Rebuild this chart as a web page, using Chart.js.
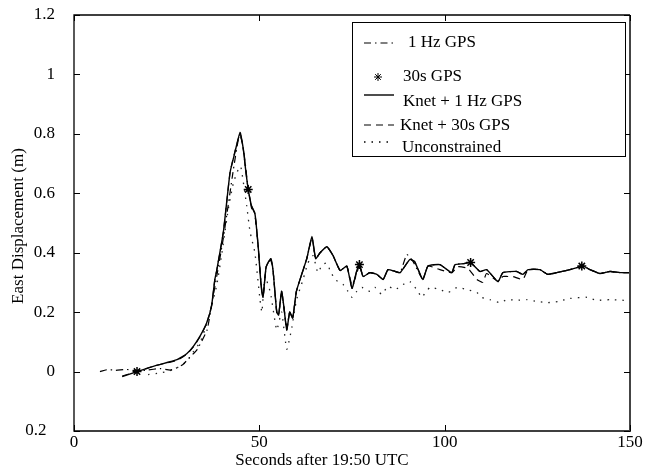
<!DOCTYPE html>
<html>
<head>
<meta charset="utf-8">
<script src="https://cdn.jsdelivr.net/npm/chart.js@4/dist/chart.umd.min.js"></script>
<style>
  body { margin: 0; background: #fff; }
  canvas { display: block; }
</style>
</head>
<body>
<canvas id="graficoDeslocamento" width="654" height="474"></canvas>
<script>
// East displacement, seconds after 19:50 UTC
var yTickLabels = ['0.2', '0', '0.2', '0.4', '0.6', '0.8', '1', '1.2'];

// Knet + 1 Hz GPS
var knet1HzT = [13, 17, 22, 27.8, 30.4, 32.2, 34, 35.8, 37.1, 38, 38.5, 40.3, 42.1, 43.4, 44.8, 45.7, 46.3, 47, 47.9, 48.8, 49.7, 50.2, 50.6, 51, 51.8, 52.5, 53.1, 53.7, 54.7, 55.2, 56, 56.6, 57.4, 58.2, 59, 60, 61.5, 62.8, 64.2, 65.2, 66.4, 68.2, 69.9, 71.8, 73.6, 75, 76.3, 77, 78, 79.8, 81.7, 83.4, 84.7, 86.6, 88, 90.6, 91.9, 94.1, 95.5, 98.7, 101.9, 102.8, 105, 107, 109.5, 111.3, 114.4, 115.7, 119.4, 121.1, 122.5, 125.7, 127.8, 130.2, 133.8, 137.3, 139.2, 141.9, 144.6, 147.3, 150];
var knet1HzV = [-0.017, 0, 0.02, 0.04, 0.06, 0.085, 0.119, 0.164, 0.22, 0.31, 0.34, 0.47, 0.67, 0.737, 0.805, 0.747, 0.68, 0.613, 0.557, 0.533, 0.42, 0.333, 0.276, 0.25, 0.35, 0.37, 0.38, 0.34, 0.2, 0.19, 0.27, 0.22, 0.14, 0.2, 0.18, 0.27, 0.33, 0.38, 0.455, 0.38, 0.40, 0.42, 0.39, 0.34, 0.355, 0.28, 0.34, 0.36, 0.32, 0.333, 0.327, 0.31, 0.343, 0.337, 0.333, 0.377, 0.37, 0.31, 0.355, 0.36, 0.333, 0.36, 0.363, 0.367, 0.337, 0.343, 0.303, 0.333, 0.337, 0.327, 0.343, 0.343, 0.327, 0.333, 0.343, 0.355, 0.343, 0.33, 0.337, 0.333, 0.333];

// Knet + 30s GPS
var knet30sT = [13, 17, 22, 27.8, 30.4, 32.2, 34, 35.8, 37.1, 38, 38.5, 40.3, 42.1, 43.4, 44.8, 45.7, 46.3, 47, 47.9, 48.8, 49.7, 50.2, 50.6, 51, 51.8, 52.5, 53.1, 53.7, 54.7, 55.2, 56, 56.6, 57.4, 58.2, 59, 60, 61.5, 62.8, 64.2, 65.2, 66.4, 68.2, 69.9, 71.8, 73.6, 75, 76.3, 77, 78, 79.8, 81.7, 83.4, 84.7, 86.6, 88, 90.6, 91.9, 94.1, 95.5, 98.7, 100.5, 102, 103.6, 106.3, 108.7, 110.3, 111.3, 114.4, 115.7, 117, 118.4, 121.1, 122.5, 125.7, 127.8, 130.2, 133.8, 137.3, 139.2, 141.9, 144.6, 147.3, 150];
var knet30sV = [-0.015, 0, 0.02, 0.038, 0.058, 0.083, 0.117, 0.162, 0.22, 0.31, 0.34, 0.47, 0.67, 0.74, 0.8, 0.745, 0.68, 0.613, 0.557, 0.53, 0.42, 0.333, 0.276, 0.25, 0.35, 0.37, 0.38, 0.34, 0.2, 0.19, 0.27, 0.22, 0.14, 0.2, 0.18, 0.27, 0.33, 0.38, 0.45, 0.38, 0.40, 0.42, 0.39, 0.34, 0.355, 0.29, 0.33, 0.36, 0.32, 0.333, 0.327, 0.31, 0.343, 0.337, 0.333, 0.377, 0.37, 0.31, 0.355, 0.343, 0.337, 0.333, 0.353, 0.347, 0.31, 0.3, 0.33, 0.303, 0.32, 0.32, 0.32, 0.31, 0.343, 0.343, 0.327, 0.333, 0.343, 0.355, 0.343, 0.33, 0.337, 0.333, 0.333];

// 1 Hz GPS
var gps1HzT = [7, 9.2, 11, 14.3, 17, 19.7, 23.2, 26, 27.8, 29.4, 31, 33.2, 35.9, 37.2, 38.5, 40.3, 43, 44.3, 44.8, 45.7, 46.3, 47, 47.9, 48.8, 49.7, 50.2, 50.6, 51, 51.8, 52.5, 53.1, 53.7, 54.7, 55.2, 56, 56.6, 57.4, 58.2, 59, 60, 61.5, 62.8, 64.2, 65.2, 66.4, 68.2, 69.9, 71.8, 73.6, 75, 76.3, 77, 78, 79.8, 81.7, 83.4, 84.7, 86.6, 88, 89.8, 91.5, 94.1, 95.5, 98.7, 101.9, 102.8, 105, 107, 109.5, 111.3, 114.4, 115.7, 119.4, 121.1, 122.5, 125.7, 127.8, 130.2, 133.8, 137.3, 139.2, 141.9, 144.6, 147.3, 150];
var gps1HzV = [0, 0.007, 0.004, 0.007, 0.002, 0.005, 0.01, 0.005, 0.013, 0.024, 0.045, 0.074, 0.14, 0.23, 0.32, 0.45, 0.68, 0.78, 0.8, 0.75, 0.69, 0.613, 0.55, 0.53, 0.42, 0.34, 0.28, 0.25, 0.35, 0.37, 0.375, 0.34, 0.2, 0.19, 0.27, 0.22, 0.15, 0.2, 0.18, 0.27, 0.33, 0.38, 0.45, 0.38, 0.40, 0.42, 0.39, 0.34, 0.355, 0.28, 0.34, 0.36, 0.32, 0.333, 0.327, 0.31, 0.343, 0.337, 0.333, 0.394, 0.37, 0.31, 0.355, 0.36, 0.333, 0.36, 0.363, 0.367, 0.337, 0.343, 0.303, 0.333, 0.337, 0.327, 0.343, 0.343, 0.327, 0.333, 0.343, 0.355, 0.343, 0.33, 0.337, 0.333, 0.333];

// 30s GPS
var gps30sT = [17, 47, 77, 107, 137];
var gps30sV = [0, 0.613, 0.36, 0.367, 0.355];

// Unconstrained
var semRestricaoT = [20, 23, 26, 27.8, 30.4, 32.2, 34, 35.3, 36.7, 38.5, 39.8, 41.6, 43, 44.3, 45, 46.6, 47.5, 48.8, 50.2, 50.7, 51.5, 53, 54.7, 56, 57.4, 58.8, 60, 61.8, 63.1, 64.5, 65.8, 67, 68.2, 69, 70.4, 72.6, 73.9, 75, 76.3, 77.7, 79.8, 81.2, 83, 84.7, 86.6, 88.8, 90.6, 92.8, 93.8, 96, 98.7, 100.9, 103.3, 106, 108.7, 110, 112.2, 114.9, 116.8, 119.4, 122.2, 124.9, 127.9, 130.6, 133.8, 138.4, 141, 144.6, 148, 150];
var semRestricaoV = [-0.01, -0.005, 0.003, 0.013, 0.034, 0.067, 0.098, 0.141, 0.2, 0.29, 0.39, 0.545, 0.635, 0.68, 0.69, 0.557, 0.47, 0.4, 0.24, 0.2, 0.32, 0.265, 0.14, 0.2, 0.075, 0.15, 0.24, 0.31, 0.365, 0.39, 0.333, 0.36, 0.365, 0.343, 0.31, 0.293, 0.27, 0.25, 0.27, 0.283, 0.27, 0.283, 0.26, 0.287, 0.276, 0.293, 0.303, 0.27, 0.25, 0.283, 0.276, 0.266, 0.283, 0.276, 0.266, 0.25, 0.242, 0.232, 0.242, 0.24, 0.242, 0.236, 0.232, 0.236, 0.246, 0.25, 0.24, 0.242, 0.24, 0.238];

function pontos(t, v) {
    return t.map(function (x, i) { return { x: x, y: v[i] }; });
}

var fonte = "'Liberation Serif', 'Times New Roman', serif";

// frame, inward ticks, legend box and axis titles
var molduraPlugin = {
    id: 'moldura',
    afterDraw: function (chart) {
        var ctx = chart.ctx;
        var a = chart.chartArea;
        var sx = chart.scales.x, sy = chart.scales.y;
        ctx.save();
        ctx.strokeStyle = '#000';
        ctx.lineWidth = 1.3;
        ctx.beginPath();
        ctx.moveTo(a.right, a.top);
        ctx.lineTo(a.left, a.top);
        ctx.lineTo(a.left, a.bottom);
        ctx.lineTo(a.right, a.bottom);
        ctx.stroke();
        ctx.strokeStyle = '#444';
        ctx.lineWidth = 2;
        ctx.beginPath();
        ctx.moveTo(a.right, a.top);
        ctx.lineTo(a.right, a.bottom + 1);
        ctx.stroke();

        ctx.strokeStyle = '#000';
        ctx.lineWidth = 1;
        sy.ticks.forEach(function (t) {
            var y = Math.round(sy.getPixelForValue(t.value)) + 0.5;
            ctx.beginPath();
            ctx.moveTo(a.left, y); ctx.lineTo(a.left + 6, y);
            ctx.moveTo(a.right, y); ctx.lineTo(a.right - 6, y);
            ctx.stroke();
        });
        sx.ticks.forEach(function (t) {
            var x = Math.round(sx.getPixelForValue(t.value)) + 0.5;
            ctx.beginPath();
            ctx.moveTo(x, a.bottom); ctx.lineTo(x, a.bottom - 6);
            ctx.moveTo(x, a.top); ctx.lineTo(x, a.top + 6);
            ctx.stroke();
        });

        // axis titles
        ctx.fillStyle = '#000';
        ctx.font = '17px ' + fonte;
        ctx.textAlign = 'center';
        ctx.textBaseline = 'middle';
        ctx.fillText('Seconds after 19:50 UTC', 322, 461);
        ctx.save();
        ctx.translate(19, 226);
        ctx.rotate(-Math.PI / 2);
        ctx.fillText('East Displacement (m)', 0, 0);
        ctx.restore();

        // legend
        ctx.fillStyle = '#fff';
        ctx.fillRect(352, 22, 273, 134);
        ctx.strokeStyle = '#000';
        ctx.lineWidth = 1;
        ctx.strokeRect(352.5, 22.5, 273, 134);

        var linhas = [
            { ds: 0, yLinha: 43, yTexto: 43, xTexto: 408 },
            { ds: 1, yLinha: 77, yTexto: 77, xTexto: 403 },
            { ds: 2, yLinha: 95, yTexto: 102, xTexto: 403 },
            { ds: 3, yLinha: 125, yTexto: 126, xTexto: 400 },
            { ds: 4, yLinha: 142, yTexto: 148, xTexto: 402 }
        ];
        linhas.forEach(function (l) {
            var d = chart.data.datasets[l.ds];
            ctx.save();
            ctx.strokeStyle = '#000';
            ctx.fillStyle = '#000';
            if (d.showLine === false) {
                Chart.helpers.drawPoint(ctx, {
                    pointStyle: 'star', radius: 4, borderWidth: 1.3
                }, 378, l.yLinha);
            } else {
                ctx.lineWidth = d.borderWidth;
                ctx.setLineDash(d.borderDash || []);
                ctx.beginPath();
                ctx.moveTo(364, l.yLinha);
                ctx.lineTo(394, l.yLinha);
                ctx.stroke();
            }
            ctx.restore();
            ctx.fillStyle = '#000';
            ctx.textAlign = 'left';
            ctx.fillText(d.label, l.xTexto, l.yTexto);
        });
        ctx.restore();
    }
};

var ctx = document.getElementById('graficoDeslocamento').getContext('2d');
var grafico = new Chart(ctx, {
    type: 'line',
    data: {
        datasets: [{
            label: '1 Hz GPS',
            data: pontos(gps1HzT, gps1HzV),
            borderColor: '#000',
            borderWidth: 1.2,
            borderDash: [7, 4, 1.5, 4],
            pointRadius: 0,
            order: 3
        }, {
            label: '30s GPS',
            data: pontos(gps30sT, gps30sV),
            showLine: false,
            pointStyle: 'star',
            pointRadius: 4.5,
            borderColor: '#000',
            backgroundColor: '#000',
            pointBorderWidth: 1.5,
            order: 0
        }, {
            label: 'Knet + 1 Hz GPS',
            data: pontos(knet1HzT, knet1HzV),
            borderColor: '#000',
            borderWidth: 1.4,
            pointRadius: 0,
            order: 1
        }, {
            label: 'Knet + 30s GPS',
            data: pontos(knet30sT, knet30sV),
            borderColor: '#000',
            borderWidth: 1.2,
            borderDash: [7, 5],
            pointRadius: 0,
            order: 2
        }, {
            label: 'Unconstrained',
            data: pontos(semRestricaoT, semRestricaoV),
            borderColor: '#222',
            borderWidth: 1.3,
            borderDash: [1.5, 6],
            pointRadius: 0,
            order: 4
        }]
    },
    options: {
        responsive: false,
        animation: false,
        layout: { padding: { left: 0, right: 24, top: 15, bottom: 0 } },
        elements: { line: { tension: 0.15 } },
        plugins: {
            legend: { display: false },
            tooltip: { enabled: false }
        },
        scales: {
            x: {
                type: 'linear',
                min: 0,
                max: 150,
                afterFit: function (s) { s.height = 43; },
                grid: { display: true, drawOnChartArea: false, drawTicks: false },
                border: { display: false },
                ticks: {
                    stepSize: 50,
                    padding: 1,
                    color: '#000',
                    maxRotation: 0,
                    font: { family: fonte, size: 17 }
                }
            },
            y: {
                min: -0.2,
                max: 1.2,
                afterFit: function (s) { s.width = 74; },
                // invisible outer tick marks just push the labels away from the axis
                grid: {
                    display: true,
                    drawOnChartArea: false,
                    drawTicks: true,
                    tickLength: 19,
                    tickColor: 'rgba(0,0,0,0)'
                },
                border: { display: false },
                ticks: {
                    stepSize: 0.2,
                    padding: 0,
                    color: '#000',
                    font: { family: fonte, size: 17 },
                    callback: function (val, i) {
                        return yTickLabels[i] + (i === 0 ? '\u2002' : '');
                    }
                }
            }
        }
    },
    plugins: [molduraPlugin]
});
</script>
</body>
</html>
